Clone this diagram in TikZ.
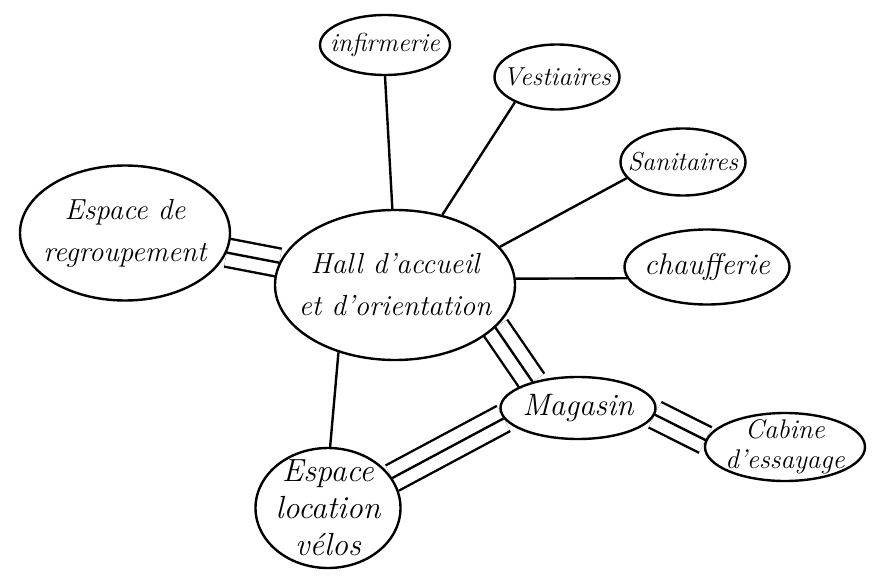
\documentclass[tikz,border=0pt]{standalone}
\usepackage{fontspec}
\usepackage{tikz}
\usetikzlibrary{shapes.geometric, backgrounds}

\begin{document}
\begin{tikzpicture}[x=1pt, y=-1pt,
    room/.style={ellipse, draw, line width=2.4pt, fill=white, inner xsep=-20pt, inner ysep=-10pt, align=center},
    link/.style={line width=2.4pt},
    tri/.style={line width=2.4pt, double=white, double distance=26pt}]
    \useasboundingbox (0,0) rectangle (873,583);
    \node[room, minimum width=240, minimum height=150, font=\fontsize{29}{42}\selectfont\itshape] (hall) at (395,285) {Hall d'accueil\\et d'orientation};
    \node[room, minimum width=130, minimum height=60, font=\fontsize{26}{30}\selectfont\itshape] (infirm) at (385,45) {infirmerie};
    \node[room, minimum width=125, minimum height=65, font=\fontsize{26}{30}\selectfont\itshape] (vest) at (557,77) {Vestiaires};
    \node[room, minimum width=125, minimum height=67, font=\fontsize{26}{30}\selectfont\itshape] (sanit) at (683,162) {Sanitaires};
    \node[room, minimum width=165, minimum height=75, font=\fontsize{30}{30}\selectfont\itshape] (chauff) at (707,267) {chaufferie};
    \node[room, minimum width=210, minimum height=135, font=\fontsize{29}{42}\selectfont\itshape] (regroup) at (125,233) {Espace de\\regroupement};
    \node[room, minimum width=155, minimum height=62, font=\fontsize{31}{30}\selectfont\itshape] (magasin) at (578,408) {Magasin};
    \node[room, minimum width=160, minimum height=68, font=\fontsize{27}{30}\selectfont\itshape] (cabine) at (785,447) {Cabine\\d'essayage};
    \node[room, minimum width=145, minimum height=120, font=\fontsize{32}{37}\selectfont\itshape] (velos) at (328,508) {Espace\\location\\vélos};
    \begin{scope}[on background layer]
        \draw[link] (infirm.270) -- (hall.92);
        \draw[link] (vest.211) -- (hall.56);
        \draw[link] (sanit.196) -- (hall.20);
        \draw[link] (chauff.188) -- (hall.3);
        \draw[link] (hall.230) -- (velos.88);
        % outer pair, then the middle line
        \draw[tri] (regroup) -- (hall);
        \draw[link] (regroup) -- (hall);
        \draw[tri] (hall.-23) -- (magasin.150);
        \draw[link] (hall.-23) -- (magasin.150);
        \draw[tri] (magasin.-5) -- (cabine.175);
        \draw[link] (magasin.-5) -- (cabine.175);
        \draw[tri] (magasin.188) -- (velos.25);
        \draw[link] (magasin.188) -- (velos.25);
    \end{scope}
\end{tikzpicture}
\end{document}
